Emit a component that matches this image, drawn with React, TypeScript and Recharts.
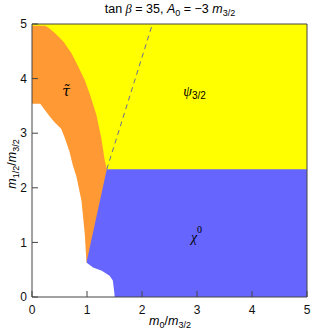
import { ComposedChart, Area, Line, XAxis, YAxis, ReferenceDot } from "recharts"

// plot range
const xDomain = [0, 5]
const yDomain = [0, 5]
const majorTicks = [0, 1, 2, 3, 4, 5]
const minorTicks = [0, 0.2, 0.4, 0.6, 0.8, 1, 1.2, 1.4, 1.6, 1.8, 2, 2.2, 2.4, 2.6, 2.8, 3, 3.2, 3.4, 3.6, 3.8, 4, 4.2, 4.4, 4.6, 4.8, 5]

// gravitino region fills whole plane underneath
const yellowX = [0, 5]
const yellowTop = [5, 5]

// stau region, upper edge
const orangeX = [0, 0.24, 0.3, 0.42, 0.57, 0.72, 0.84, 0.96, 1.05, 1.17, 1.26, 1.32, 1.36]
const orangeTop = [4.97, 4.97, 4.93, 4.83, 4.68, 4.46, 4.22, 3.97, 3.72, 3.34, 2.91, 2.52, 2.34]

// neutralino region, upper edge
const blueX = [0.99, 1.36, 5]
const blueTop = [0.63, 2.34, 2.34]

// excluded (white) region, upper edge
const whiteX = [0, 0.15, 0.2, 0.32, 0.41, 0.53, 0.59, 0.68, 0.74, 0.81, 0.9, 0.96, 0.99, 1.11, 1.27, 1.41, 1.47, 1.5]
const whiteTop = [3.54, 3.54, 3.47, 3.31, 3.2, 3.08, 2.93, 2.67, 2.42, 2.2, 1.76, 1.15, 0.63, 0.54, 0.48, 0.39, 0.3, 0.05]

// dashed line
const dashX = [1.36, 2.19]
const dashY = [2.34, 5]

const toPoints = (xs: number[], ys: number[]) => xs.map((x, i) => ({ x, y: ys[i] }))

const frame = "#444"
const tickFont = { fontSize: 12, fill: "#111", fontFamily: "Liberation Sans" }

const TauLabel = (p: any) => (
  <text x={p.cx} y={p.cy} textAnchor="middle" fontSize={14} fontStyle="italic" fontFamily="DejaVu Serif" fill="#000">τ̃</text>
)

const PsiLabel = (p: any) => (
  <text x={p.cx} y={p.cy} fontSize={14} fontFamily="Liberation Serif" fill="#000">
    <tspan fontStyle="italic">ψ</tspan>
    <tspan dy={3} fontSize={10} fontFamily="Liberation Sans">3/2</tspan>
  </text>
)

const ChiLabel = (p: any) => (
  <text x={p.cx} y={p.cy} fontSize={14} fontFamily="Liberation Serif" fill="#000">
    <tspan fontStyle="italic">χ</tspan>
    <tspan dy={-9} fontSize={10}>0</tspan>
  </text>
)

export default function App() {
  return (
    <div style={{ position: "absolute", left: 0, top: 0, width: 311, height: 336 }}>
      <ComposedChart width={311} height={336} margin={{ top: 22, right: 2, bottom: 37, left: 30 }}>
        <Area data={toPoints(yellowX, yellowTop)} dataKey="y" type="linear" stroke="none" fill="#ffff00" fillOpacity={1} isAnimationActive={false} />
        <Area data={toPoints(orangeX, orangeTop)} dataKey="y" type="linear" stroke="none" fill="#ff9933" fillOpacity={1} isAnimationActive={false} />
        <Area data={toPoints(blueX, blueTop)} dataKey="y" type="linear" stroke="none" fill="#6666ff" fillOpacity={1} isAnimationActive={false} />
        <Area data={toPoints(whiteX, whiteTop)} dataKey="y" type="linear" stroke="none" fill="#ffffff" fillOpacity={1} isAnimationActive={false} />
        <Line data={toPoints(dashX, dashY)} dataKey="y" type="linear" stroke="#6a7090" strokeWidth={1} strokeDasharray="5 4" dot={false} isAnimationActive={false} />

        <ReferenceDot x={0.62} y={3.68} r={0} shape={TauLabel} />
        <ReferenceDot x={2.75} y={3.68} r={0} shape={PsiLabel} />
        <ReferenceDot x={2.89} y={1.0} r={0} shape={ChiLabel} />

        <XAxis xAxisId={0} type="number" dataKey="x" domain={xDomain} allowDataOverflow ticks={majorTicks} height={1}
          tickSize={-6} tickMargin={14} stroke={frame} tick={tickFont} />
        <XAxis xAxisId="minorB" type="number" dataKey="x" domain={xDomain} allowDataOverflow ticks={minorTicks} height={1}
          tickSize={-4} axisLine={false} tick={false} stroke={frame} />
        <XAxis xAxisId="majorT" orientation="top" type="number" dataKey="x" domain={xDomain} allowDataOverflow ticks={majorTicks} height={1}
          tickSize={-6} stroke={frame} tick={false} />
        <XAxis xAxisId="minorT" orientation="top" type="number" dataKey="x" domain={xDomain} allowDataOverflow ticks={minorTicks} height={1}
          tickSize={-4} axisLine={false} tick={false} stroke={frame} />

        <YAxis yAxisId={0} type="number" domain={yDomain} allowDataOverflow ticks={majorTicks} width={1}
          tickSize={-6} tickMargin={11} stroke={frame} tick={tickFont} />
        <YAxis yAxisId="minorL" type="number" domain={yDomain} allowDataOverflow ticks={minorTicks} width={1}
          tickSize={-4} axisLine={false} tick={false} stroke={frame} />
        <YAxis yAxisId="majorR" orientation="right" type="number" domain={yDomain} allowDataOverflow ticks={majorTicks} width={1}
          tickSize={-6} stroke={frame} tick={false} />
        <YAxis yAxisId="minorR" orientation="right" type="number" domain={yDomain} allowDataOverflow ticks={minorTicks} width={1}
          tickSize={-4} axisLine={false} tick={false} stroke={frame} />
      </ComposedChart>

      <svg width={311} height={336} style={{ position: "absolute", left: 0, top: 0, pointerEvents: "none" }}>
        <text x={170} y={13} textAnchor="middle" fontSize={12.5} fontFamily="Liberation Sans" fill="#000">
          {"tan "}
          <tspan fontStyle="italic" fontFamily="Liberation Serif">β</tspan>
          {" = 35, "}
          <tspan fontStyle="italic">A</tspan>
          <tspan fontSize={9} dy={3}>0</tspan>
          <tspan dy={-3}>{" = −3 "}</tspan>
          <tspan fontStyle="italic">m</tspan>
          <tspan fontSize={9} dy={3}>3/2</tspan>
        </text>
        <text x={170} y={325} textAnchor="middle" fontSize={12.5} fontFamily="Liberation Sans" fill="#000">
          <tspan fontStyle="italic">m</tspan>
          <tspan fontSize={9} dy={3}>0</tspan>
          <tspan dy={-3}>/</tspan>
          <tspan fontStyle="italic">m</tspan>
          <tspan fontSize={9} dy={3}>3/2</tspan>
        </text>
        <text x={0} y={0} transform="translate(16,164) rotate(-90)" textAnchor="middle" fontSize={12.5} fontFamily="Liberation Sans" fill="#000">
          <tspan fontStyle="italic">m</tspan>
          <tspan fontSize={9} dy={3}>1/2</tspan>
          <tspan dy={-3}>/</tspan>
          <tspan fontStyle="italic">m</tspan>
          <tspan fontSize={9} dy={3}>3/2</tspan>
        </text>
      </svg>
    </div>
  )
}
